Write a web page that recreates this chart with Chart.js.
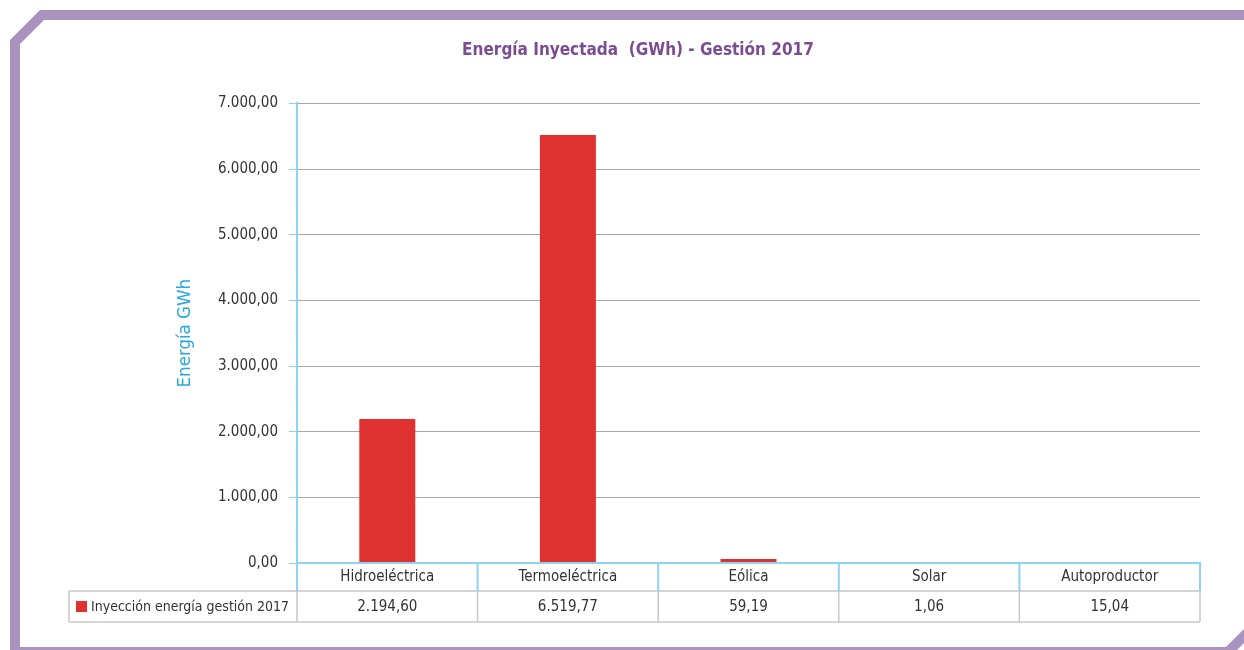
<!DOCTYPE html>
<html>
<head>
<meta charset="utf-8">
<script src="https://cdn.jsdelivr.net/npm/chart.js@4.4.1/dist/chart.umd.min.js"></script>
<style>
  html, body { margin: 0; padding: 0; background: #ffffff; }
  #wrap { width: 1244px; height: 650px; position: relative; }
</style>
</head>
<body>
<div id="wrap"><canvas id="c"></canvas></div>
<script>
const chartTitle = 'Energía Inyectada  (GWh) - Gestión 2017';
const yAxisTitle = 'Energía GWh';
const categories = ['Hidroeléctrica', 'Termoeléctrica', 'Eólica', 'Solar', 'Autoproductor'];
const seriesLabel = 'Inyección energía gestión 2017';
const seriesValues = [2194.60, 6519.77, 59.19, 1.06, 15.04];
const yTickValues = [0, 1000, 2000, 3000, 4000, 5000, 6000, 7000];

const FONT = '"DejaVu Sans Condensed", "Liberation Sans Narrow", "Liberation Sans", sans-serif';
const BAR = '#E03131';
const BLUE = '#8ED3F4';
const GRID = '#A8A8A8';
const TABLE = '#C8C8C8';
const PURPLE = '#AA93BE';
const TEXT = '#333333';

function fmt(v) {
  const neg = v < 0;
  const parts = Math.abs(v).toFixed(2).split('.');
  const intPart = parts[0].replace(/\B(?=(\d{3})+(?!\d))/g, '.');
  return (neg ? '-' : '') + intPart + ',' + parts[1];
}

Chart.defaults.font.family = FONT;
Chart.defaults.color = TEXT;

const framePlugin = {
  id: 'frame',
  beforeDraw(chart) {
    const ctx = chart.ctx;
    ctx.save();
    ctx.strokeStyle = PURPLE;
    ctx.lineWidth = 10;
    ctx.lineJoin = 'miter';
    ctx.beginPath();
    ctx.moveTo(1300, 15);
    ctx.lineTo(42, 15);
    ctx.lineTo(15, 42);
    ctx.lineTo(15, 652);
    ctx.lineTo(1228, 652);
    ctx.lineTo(1290, 590);
    ctx.stroke();
    ctx.restore();
  }
};

const tablePlugin = {
  id: 'dataTable',
  afterDatasetsDraw(chart) {
    const ctx = chart.ctx;
    const area = chart.chartArea;
    ctx.save();
    ctx.strokeStyle = BLUE;
    ctx.lineWidth = 2;
    ctx.beginPath();
    ctx.moveTo(area.left - 1, area.bottom);
    ctx.lineTo(area.right + 1, area.bottom);
    ctx.stroke();
    ctx.restore();
  },
  afterDraw(chart) {
    const ctx = chart.ctx;
    const xs = chart.scales.x;
    const area = chart.chartArea;
    const n = categories.length;
    const step = (area.right - area.left) / n;
    const top = area.bottom;       // 563
    const mid = top + 28;          // 591
    const bot = mid + 31;          // 622
    const legLeft = 69;
    ctx.save();
    ctx.strokeStyle = TABLE;
    ctx.lineWidth = 1.5;
    ctx.beginPath();
    ctx.moveTo(legLeft, mid); ctx.lineTo(area.right, mid);
    ctx.moveTo(legLeft, bot); ctx.lineTo(area.right, bot);
    ctx.moveTo(legLeft, mid); ctx.lineTo(legLeft, bot);
    for (let i = 0; i <= n; i++) {
      const x = area.left + i * step;
      ctx.moveTo(x, mid); ctx.lineTo(x, bot);
    }
    ctx.stroke();
    ctx.strokeStyle = BLUE;
    ctx.lineWidth = 2;
    ctx.beginPath();
    for (let i = 0; i <= n; i++) {
      const x = area.left + i * step;
      ctx.moveTo(x, top); ctx.lineTo(x, mid);
    }
    ctx.stroke();
    ctx.fillStyle = BAR;
    ctx.fillRect(76, 601, 11, 11);
    ctx.fillStyle = TEXT;
    ctx.font = '14px ' + FONT;
    ctx.textBaseline = 'middle';
    ctx.textAlign = 'left';
    ctx.fillText(seriesLabel, 91, 607);
    ctx.font = '15px ' + FONT;
    ctx.textAlign = 'center';
    seriesValues.forEach((v, i) => {
      const x = xs.getPixelForValue(i);
      ctx.fillText(fmt(v), x, 607);
    });
    ctx.restore();
  }
};

new Chart(document.getElementById('c'), {
  type: 'bar',
  data: {
    labels: categories,
    datasets: [{
      label: seriesLabel,
      data: seriesValues,
      backgroundColor: BAR,
      borderWidth: 0,
      categoryPercentage: 1.0,
      barPercentage: 0.31
    }]
  },
  options: {
    responsive: true,
    maintainAspectRatio: false,
    animation: false,
    events: [],
    layout: { padding: { left: 76, right: 44, top: 0, bottom: 28 } },
    plugins: {
      legend: { display: false },
      tooltip: { enabled: false },
      title: {
        display: true,
        text: chartTitle,
        color: '#7A4C92',
        font: { size: 17, weight: 'bold', family: FONT, lineHeight: 1.2 },
        padding: { top: 40, bottom: 43 }
      }
    },
    scales: {
      x: {
        grid: { display: false, drawTicks: false },
        border: { display: true, color: BLUE, width: 2 },
        ticks: { color: TEXT, font: { size: 15 }, padding: 5, maxRotation: 0 },
        afterFit(s) { s.height = 59; }
      },
      y: {
        min: 0,
        max: 7000,
        afterBuildTicks(s) { s.ticks = yTickValues.map(v => ({ value: v })); },
        grid: {
          color: (c) => (c.tick && c.tick.value === 0) ? 'rgba(0,0,0,0)' : GRID,
          tickColor: BLUE,
          tickLength: 8,
          lineWidth: 1
        },
        border: { display: true, color: BLUE, width: 2 },
        ticks: {
          color: TEXT,
          font: { size: 15 },
          padding: 11,
          callback: (v) => fmt(v)
        },
        title: {
          display: true,
          text: yAxisTitle,
          color: '#29A8E0',
          font: { size: 18.5, family: FONT, lineHeight: 1.2 },
          padding: { top: 98, bottom: 0 }
        },
        afterFit(s) { s.width = 221; }
      }
    }
  },
  plugins: [framePlugin, tablePlugin]
});
</script>
</body>
</html>
